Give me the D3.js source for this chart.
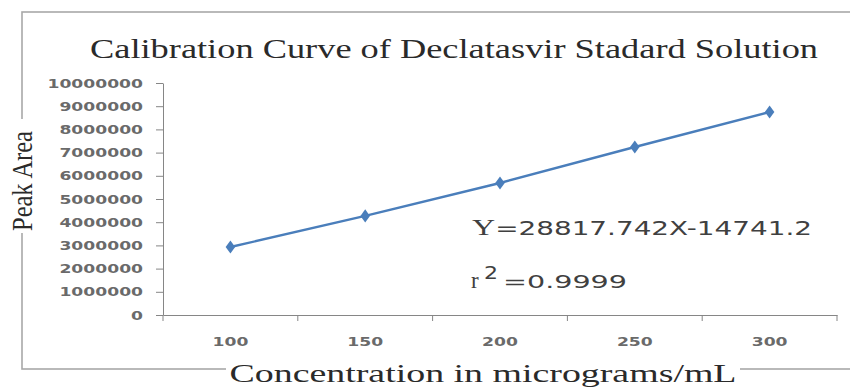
<!DOCTYPE html>
<html>
<head>
<meta charset="utf-8">
<script src="https://cdn.jsdelivr.net/npm/d3@7"></script>
<style>
  html, body { margin: 0; padding: 0; background: #fff; }
  svg { display: block; }
</style>
</head>
<body>
<svg id="chart" width="850" height="388"></svg>
<script>
// ---- data ----
const categories = [100, 150, 200, 250, 300];
const peakArea = [2930000, 4270000, 5690000, 7240000, 8750000];
const yTicks = [0, 1000000, 2000000, 3000000, 4000000, 5000000, 6000000, 7000000, 8000000, 9000000, 10000000];
const titleText = "Calibration Curve of Declatasvir Stadard Solution";
const xTitleText = "Concentration in micrograms/mL";
const yTitleText = "Peak Area";
const equationText = "=28817.742X-14741.2";
const r2Text = "=0.9999";

// ---- layout ----
const W = 850, H = 388;
const plot = { left: 163, right: 837, top: 83, bottom: 315 };
const STRETCH = 1.32;
const serif = "'Liberation Serif', 'Times New Roman', serif";
const sans = "'DejaVu Sans', Verdana, sans-serif";

const svg = d3.select("#chart");
svg.append("rect").attr("width", W).attr("height", H).attr("fill", "#fff");

const borderLayer = svg.append("g");
const backLayer = svg.append("g");
const layer = svg.append("g");

// chart border
borderLayer.append("rect")
  .attr("x", 22).attr("y", 12)
  .attr("width", 860).attr("height", 357)
  .attr("fill", "none").attr("stroke", "#a8a8a8").attr("stroke-width", 1.6);

// backing boxes that interrupt the border behind axis titles
backLayer.append("rect").attr("x", 226).attr("y", 360).attr("width", 514).attr("height", 28).attr("fill", "#fff");
backLayer.append("rect").attr("x", 8).attr("y", 119).attr("width", 30).attr("height", 114).attr("fill", "#fff");

function stretch(sel, k) {
  sel.each(function () {
    const w = this.getComputedTextLength();
    d3.select(this).attr("textLength", w * k).attr("lengthAdjust", "spacingAndGlyphs");
  });
}

const x = d3.scaleBand().domain(categories).range([plot.left, plot.right]).padding(0);
const y = d3.scaleLinear().domain([0, 10000000]).range([plot.bottom, plot.top]);

// y axis
const yAxis = layer.append("g")
  .attr("transform", `translate(${plot.left},0)`)
  .call(d3.axisLeft(y).tickValues(yTicks).tickFormat(d3.format("d")).tickSize(7).tickSizeOuter(0).tickPadding(13));
yAxis.select(".domain").attr("stroke", "#868686");
yAxis.selectAll(".tick line").attr("stroke", "#868686");
yAxis.selectAll(".tick text")
  .attr("font-family", sans).attr("font-size", 13).attr("font-weight", "bold")
  .attr("fill", "#6a6a6a");
stretch(yAxis.selectAll(".tick text"), STRETCH);

// x axis (labels at category centres)
const xAxis = layer.append("g")
  .attr("transform", `translate(0,${plot.bottom})`)
  .call(d3.axisBottom(x).tickSize(0).tickPadding(22));
xAxis.select(".domain").attr("stroke", "#868686");
xAxis.selectAll(".tick text")
  .attr("font-family", sans).attr("font-size", 13).attr("font-weight", "bold")
  .attr("fill", "#6a6a6a");
stretch(xAxis.selectAll(".tick text"), STRETCH);
// boundary tick marks
const bounds = categories.map(c => x(c)).concat([x(categories[categories.length - 1]) + x.bandwidth()]);
xAxis.selectAll(".bt").data(bounds).enter().append("line")
  .attr("x1", d => d).attr("x2", d => d).attr("y1", 0).attr("y2", 6)
  .attr("stroke", "#868686");

// series line
const pts = categories.map((c, i) => [x(c) + x.bandwidth() / 2, y(peakArea[i])]);
layer.append("path")
  .datum(pts)
  .attr("d", d3.line())
  .attr("fill", "none").attr("stroke", "#4a7ebb").attr("stroke-width", 2.4);
layer.selectAll(".mk").data(pts).enter().append("path")
  .attr("transform", d => `translate(${d[0]},${d[1]}) scale(1.25,1)`)
  .attr("d", d3.symbol().type(d3.symbolDiamond).size(50))
  .attr("fill", "#4a7ebb");

// title
layer.append("text")
  .attr("x", 454).attr("y", 58).attr("text-anchor", "middle")
  .attr("font-family", serif).attr("font-size", 28).attr("fill", "#2a2a2a")
  .text(titleText)
  .attr("textLength", 728).attr("lengthAdjust", "spacingAndGlyphs");

// x axis title
layer.append("text")
  .attr("x", 483).attr("y", 382).attr("text-anchor", "middle")
  .attr("font-family", serif).attr("font-size", 26).attr("fill", "#2a2a2a")
  .text(xTitleText)
  .attr("textLength", 507).attr("lengthAdjust", "spacingAndGlyphs");

// y axis title
layer.append("g").attr("transform", "translate(22,181) rotate(-90)")
  .append("text")
  .attr("x", 0).attr("y", 10).attr("text-anchor", "middle")
  .attr("font-family", serif).attr("font-size", 30).attr("fill", "#2a2a2a")
  .text(yTitleText)
  .attr("textLength", 100).attr("lengthAdjust", "spacingAndGlyphs");

// equation
const eq = layer.append("text").attr("x", 472).attr("y", 235)
  .attr("fill", "#404040").attr("textLength", 340).attr("lengthAdjust", "spacingAndGlyphs");
eq.append("tspan").attr("font-family", serif).attr("font-size", 23).text("Y");
eq.append("tspan").attr("font-family", sans).attr("font-size", 20).text(equationText);

const r2 = layer.append("g").attr("fill", "#404040");
r2.append("text").attr("x", 471).attr("y", 288).attr("font-family", serif).attr("font-size", 23).text("r");
r2.append("text").attr("x", 484).attr("y", 279).attr("font-family", sans).attr("font-size", 18)
  .text("2").attr("textLength", 14).attr("lengthAdjust", "spacingAndGlyphs");
r2.append("text").attr("x", 503).attr("y", 288).attr("font-family", sans).attr("font-size", 18)
  .text(r2Text).attr("textLength", 124).attr("lengthAdjust", "spacingAndGlyphs");
</script>
</body>
</html>
